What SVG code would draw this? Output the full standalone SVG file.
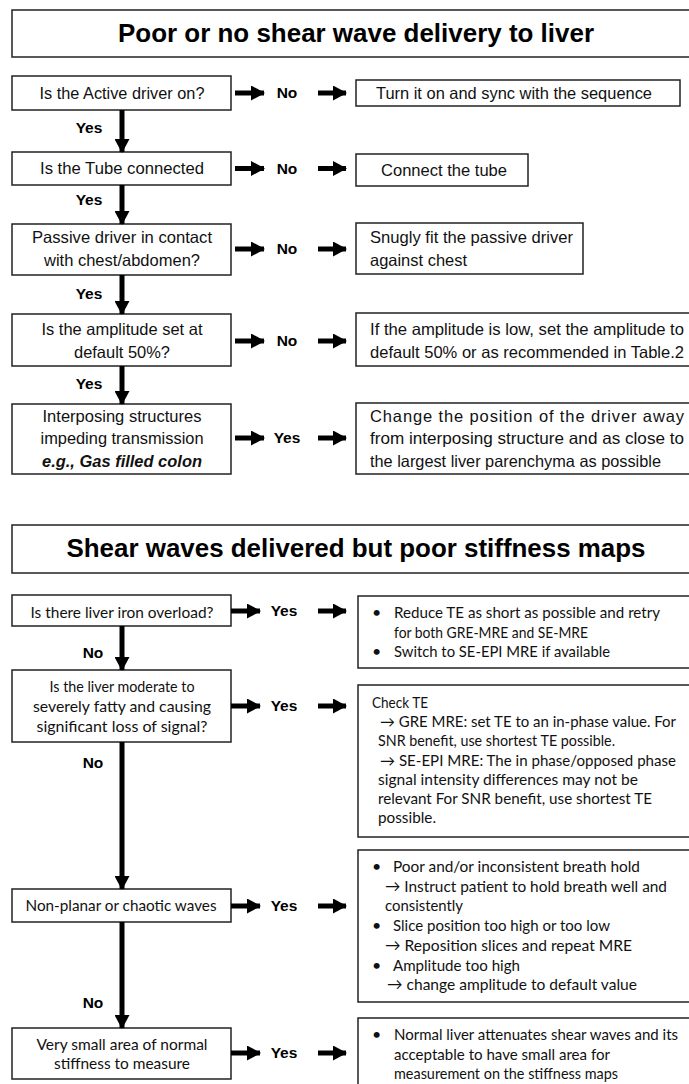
<svg xmlns="http://www.w3.org/2000/svg" width="689" height="1084" viewBox="0 0 689 1084">
<defs>
<marker id="ah" markerUnits="userSpaceOnUse" markerWidth="14" markerHeight="15" refX="13" refY="7.5" orient="auto"><path d="M0,0 L14,7.5 L0,15 Z" fill="#000"/></marker>
<style>
.box{fill:#fff;stroke:#222;stroke-width:1.5}
.a{font-family:"Liberation Sans",Arial,sans-serif;font-size:16.5px;fill:#111}
.m{text-anchor:middle}
.title{font-family:"Liberation Sans",Arial,sans-serif;font-size:26px;font-weight:bold;text-anchor:middle;fill:#000}
.lbl{font-family:"Liberation Sans",Arial,sans-serif;font-size:15.5px;font-weight:bold;text-anchor:middle;fill:#000}
.k{font-family:Lato,"Open Sans",sans-serif;font-size:16px;fill:#111}
.s{font-size:15px}
.conn line{stroke:#000;stroke-width:5;marker-end:url(#ah)}
</style>
</defs>
<rect width="689" height="1084" fill="#fff"/>

<!-- Section 1 -->
<g id="title1"><rect class="box" x="12" y="10" width="700" height="47"/><text class="title" x="356" y="42" textLength="476" lengthAdjust="spacingAndGlyphs">Poor or no shear wave delivery to liver</text></g>

<g id="q1"><rect class="box" x="12" y="76" width="219" height="34"/><text class="a m" x="122" y="99" textLength="165" lengthAdjust="spacingAndGlyphs">Is the Active driver on?</text></g>
<g id="a1"><rect class="box" x="356" y="80" width="324" height="26"/><text class="a m" x="514" y="99" textLength="276" lengthAdjust="spacingAndGlyphs">Turn it on and sync with the sequence</text></g>

<g id="q2"><rect class="box" x="12" y="152" width="219" height="33"/><text class="a m" x="122" y="174" textLength="164" lengthAdjust="spacingAndGlyphs">Is the Tube connected</text></g>
<g id="a2"><rect class="box" x="356" y="154" width="172" height="32"/><text class="a m" x="444" y="176" textLength="126" lengthAdjust="spacingAndGlyphs">Connect the tube</text></g>

<g id="q3"><rect class="box" x="12" y="224" width="219" height="51"/><text class="a m" x="122" y="243" textLength="180" lengthAdjust="spacingAndGlyphs">Passive driver in contact</text><text class="a m" x="122" y="266" textLength="156" lengthAdjust="spacingAndGlyphs">with chest/abdomen?</text></g>
<g id="a3"><rect class="box" x="356" y="223" width="227" height="51"/><text class="a" x="370" y="243" textLength="203" lengthAdjust="spacingAndGlyphs">Snugly fit the passive driver</text><text class="a" x="370" y="266" textLength="97" lengthAdjust="spacingAndGlyphs">against chest</text></g>

<g id="q4"><rect class="box" x="12" y="314" width="219" height="52"/><text class="a m" x="122" y="335" textLength="161" lengthAdjust="spacingAndGlyphs">Is the amplitude set at</text><text class="a m" x="122" y="358" textLength="96" lengthAdjust="spacingAndGlyphs">default 50%?</text></g>
<g id="a4"><rect class="box" x="356" y="313" width="352" height="53"/><text class="a" x="370" y="335" textLength="314" lengthAdjust="spacingAndGlyphs">If the amplitude is low, set the amplitude to</text><text class="a" x="370" y="358" textLength="314" lengthAdjust="spacingAndGlyphs">default 50% or as recommended in Table.2</text></g>

<g id="q5"><rect class="box" x="12" y="404" width="219" height="70"/><text class="a m" x="122" y="422" textLength="159" lengthAdjust="spacingAndGlyphs">Interposing structures</text><text class="a m" x="122" y="444" textLength="163" lengthAdjust="spacingAndGlyphs">impeding transmission</text><text class="a m" x="122" y="467" font-weight="bold" font-style="italic" textLength="160" lengthAdjust="spacingAndGlyphs">e.g., Gas filled colon</text></g>
<g id="a5"><rect class="box" x="356" y="403" width="352" height="71"/><text class="a" x="370" y="422" textLength="314" lengthAdjust="spacing">Change the position of the driver away</text><text class="a" x="370" y="444" textLength="314" lengthAdjust="spacingAndGlyphs">from interposing structure and as close to</text><text class="a" x="370" y="467" textLength="291" lengthAdjust="spacingAndGlyphs">the largest liver parenchyma as possible</text></g>

<!-- Section 2 -->
<g id="title2"><rect class="box" x="12" y="525" width="700" height="48"/><text class="title" x="356" y="557" textLength="579" lengthAdjust="spacingAndGlyphs">Shear waves delivered but poor stiffness maps</text></g>

<g id="r1"><rect class="box" x="12" y="595" width="219" height="31"/><text class="k m" x="122" y="618" textLength="183" lengthAdjust="spacingAndGlyphs">Is there liver iron overload?</text></g>
<g id="s1"><rect class="box" x="358" y="596" width="350" height="72"/>
<text class="k" x="372" y="618">•</text><text class="k" x="394" y="618" textLength="266" lengthAdjust="spacingAndGlyphs">Reduce TE as short as possible and retry</text>
<text class="k" x="394" y="637.5" textLength="194" lengthAdjust="spacingAndGlyphs">for both GRE-MRE and SE-MRE</text>
<text class="k" x="372" y="657">•</text><text class="k" x="394" y="657" textLength="216" lengthAdjust="spacingAndGlyphs">Switch to SE-EPI MRE if available</text></g>

<g id="r2"><rect class="box" x="12" y="670" width="219" height="72"/><text class="k m" x="122" y="692" textLength="145" lengthAdjust="spacingAndGlyphs">Is the liver moderate to</text><text class="k m" x="122" y="712" textLength="178" lengthAdjust="spacingAndGlyphs">severely fatty  and causing</text><text class="k m" x="122" y="732" textLength="171" lengthAdjust="spacingAndGlyphs">significant loss of signal?</text></g>
<g id="s2"><rect class="box" x="358" y="685" width="350" height="152"/>
<text class="k" x="372" y="708" textLength="56" lengthAdjust="spacingAndGlyphs">Check TE</text>
<text class="k s" x="380" y="727.2" textLength="296" lengthAdjust="spacingAndGlyphs">→ GRE MRE: set TE to an in-phase value. For</text>
<text class="k" x="378" y="746.4" textLength="237" lengthAdjust="spacingAndGlyphs">SNR benefit, use shortest TE possible.</text>
<text class="k s" x="380" y="765.6" textLength="296" lengthAdjust="spacingAndGlyphs">→ SE-EPI MRE: The in phase/opposed phase</text>
<text class="k" x="378" y="784.8" textLength="260" lengthAdjust="spacingAndGlyphs">signal intensity differences may not be</text>
<text class="k" x="378" y="804" textLength="274" lengthAdjust="spacingAndGlyphs">relevant  For SNR benefit, use shortest TE</text>
<text class="k" x="378" y="823.2" textLength="58" lengthAdjust="spacingAndGlyphs">possible.</text></g>

<g id="r3"><rect class="box" x="12" y="889" width="219" height="33"/><text class="k m" x="121" y="911" textLength="191" lengthAdjust="spacingAndGlyphs">Non-planar or chaotic waves</text></g>
<g id="s3"><rect class="box" x="358" y="850" width="350" height="152"/>
<text class="k" x="372" y="872">•</text><text class="k" x="393" y="872" textLength="247" lengthAdjust="spacingAndGlyphs">Poor and/or inconsistent breath hold</text>
<text class="k" x="385" y="891.7" textLength="282" lengthAdjust="spacingAndGlyphs">→ Instruct patient to hold breath well and</text>
<text class="k" x="385" y="911.4" textLength="78" lengthAdjust="spacingAndGlyphs">consistently</text>
<text class="k" x="372" y="931.1">•</text><text class="k" x="393" y="931.1" textLength="217" lengthAdjust="spacingAndGlyphs">Slice position too high or too low</text>
<text class="k" x="385" y="950.8" textLength="247" lengthAdjust="spacingAndGlyphs">→  Reposition slices  and repeat MRE</text>
<text class="k" x="372" y="970.5">•</text><text class="k" x="393" y="970.5" textLength="127" lengthAdjust="spacingAndGlyphs">Amplitude too high</text>
<text class="k" x="387" y="990.2" textLength="250" lengthAdjust="spacingAndGlyphs">→ change amplitude to default value</text></g>

<g id="r4"><rect class="box" x="12" y="1028" width="219" height="51"/><text class="k m" x="122" y="1050" textLength="171" lengthAdjust="spacingAndGlyphs">Very small area of normal</text><text class="k m" x="122" y="1069" textLength="136" lengthAdjust="spacingAndGlyphs">stiffness to measure</text></g>
<g id="s4"><rect class="box" x="358" y="1018" width="350" height="80"/>
<text class="k" x="372" y="1040">•</text><text class="k s" x="394" y="1040" textLength="284" lengthAdjust="spacingAndGlyphs">Normal liver attenuates shear waves and its</text>
<text class="k" x="394" y="1059.7" textLength="216" lengthAdjust="spacingAndGlyphs">acceptable to have small area for</text>
<text class="k" x="394" y="1079.4" textLength="224" lengthAdjust="spacingAndGlyphs">measurement on the stiffness maps</text></g>

<g id="connectors">
<g class="conn">
<line x1="122" y1="110" x2="122" y2="152"/>
<line x1="122" y1="185" x2="122" y2="224"/>
<line x1="122" y1="275" x2="122" y2="314"/>
<line x1="122" y1="366" x2="122" y2="404"/>
<line x1="235" y1="93" x2="264" y2="93"/>
<line x1="318" y1="93" x2="346" y2="93"/>
<line x1="235" y1="168.5" x2="264" y2="168.5"/>
<line x1="318" y1="168.5" x2="346" y2="168.5"/>
<line x1="235" y1="249" x2="264" y2="249"/>
<line x1="318" y1="249" x2="346" y2="249"/>
<line x1="235" y1="341" x2="264" y2="341"/>
<line x1="318" y1="341" x2="346" y2="341"/>
<line x1="235" y1="438" x2="264" y2="438"/>
<line x1="318" y1="438" x2="346" y2="438"/>

<line x1="122" y1="626" x2="122" y2="670"/>
<line x1="122" y1="742" x2="122" y2="889"/>
<line x1="122" y1="922" x2="122" y2="1028"/>
<line x1="231" y1="611" x2="260" y2="611"/>
<line x1="318" y1="611" x2="346" y2="611"/>
<line x1="231" y1="706" x2="260" y2="706"/>
<line x1="318" y1="706" x2="346" y2="706"/>
<line x1="231" y1="906" x2="260" y2="906"/>
<line x1="318" y1="906" x2="346" y2="906"/>
<line x1="231" y1="1053" x2="260" y2="1053"/>
<line x1="318" y1="1053" x2="346" y2="1053"/>
</g>
<text class="lbl" x="287" y="98">No</text>
<text class="lbl" x="287" y="174">No</text>
<text class="lbl" x="287" y="254">No</text>
<text class="lbl" x="287" y="346">No</text>
<text class="lbl" x="287" y="443">Yes</text>
<text class="lbl" x="89" y="133">Yes</text>
<text class="lbl" x="89" y="205">Yes</text>
<text class="lbl" x="89" y="299">Yes</text>
<text class="lbl" x="89" y="389">Yes</text>
<text class="lbl" x="284" y="616">Yes</text>
<text class="lbl" x="284" y="711">Yes</text>
<text class="lbl" x="284" y="911">Yes</text>
<text class="lbl" x="284" y="1058">Yes</text>
<text class="lbl" x="93" y="658">No</text>
<text class="lbl" x="93" y="768">No</text>
<text class="lbl" x="93" y="1008">No</text>
</g>
</svg>
